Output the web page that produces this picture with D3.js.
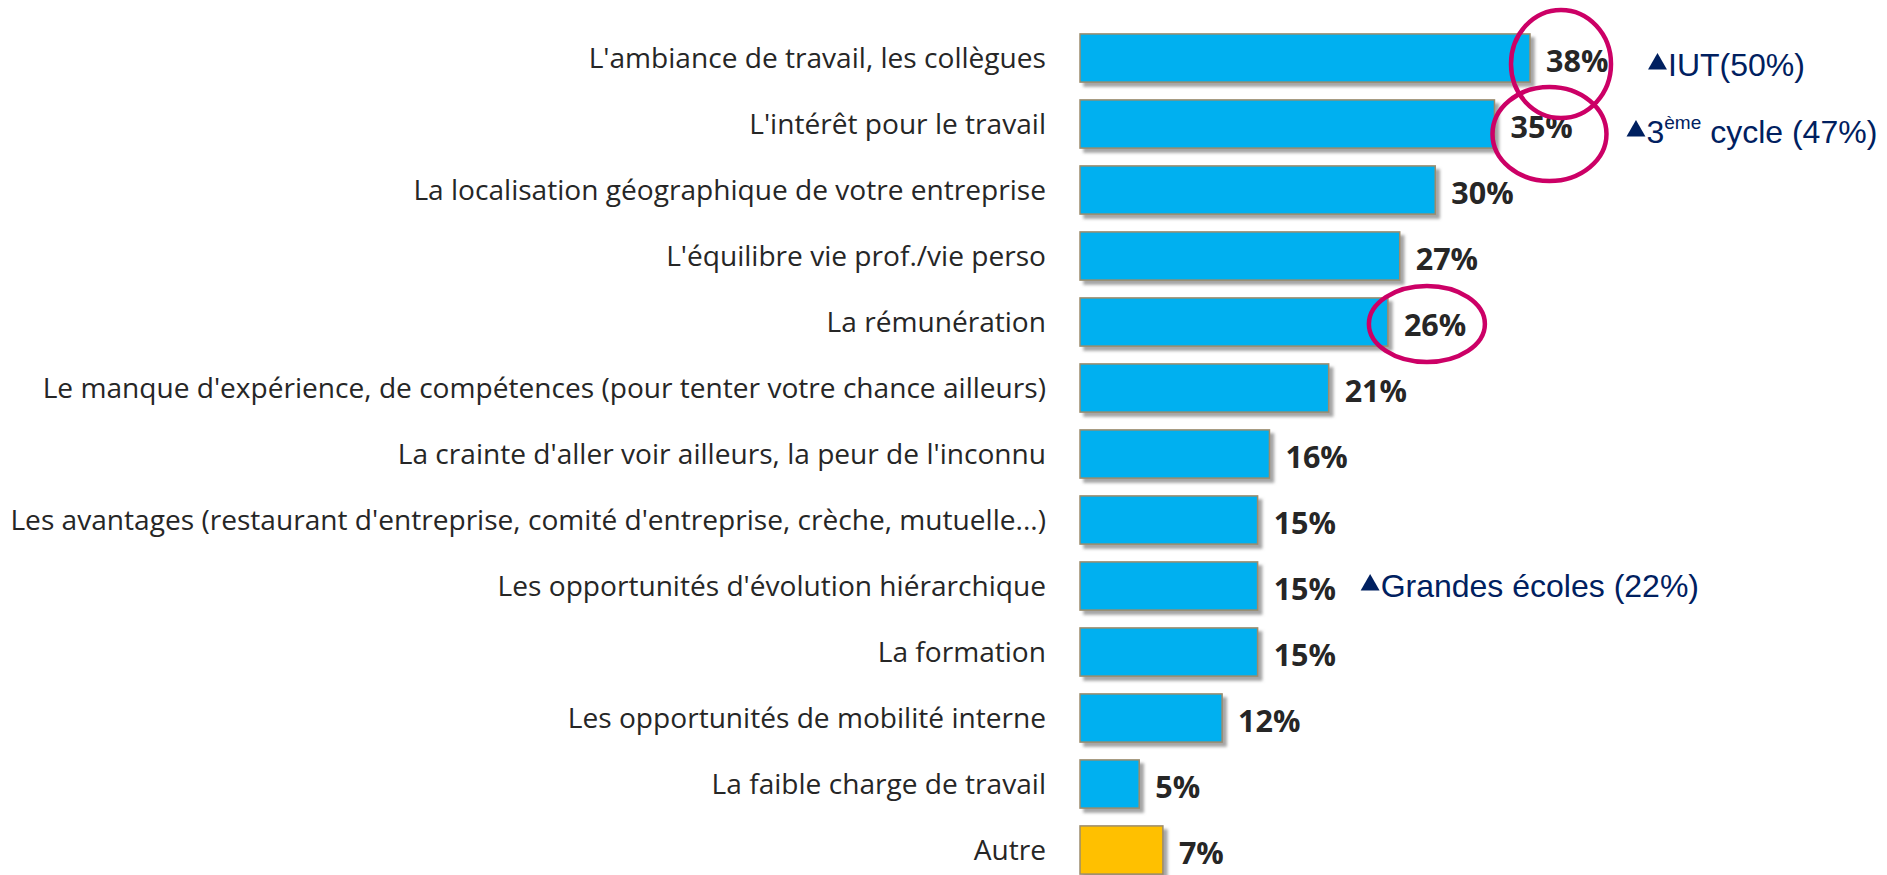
<!DOCTYPE html>
<html>
<head>
<meta charset="utf-8">
<script src="https://cdn.jsdelivr.net/npm/d3@7"></script>
<style>
  html, body { margin: 0; padding: 0; background: #fff; }
  svg { display: block; }
</style>
</head>
<body>
<div id="chart"></div>
<script>
/*************
Data
**************/
var categories = [
  "L'ambiance de travail, les collègues",
  "L'intérêt pour le travail",
  "La localisation géographique de votre entreprise",
  "L'équilibre vie prof./vie perso",
  "La rémunération",
  "Le manque d'expérience, de compétences (pour tenter votre chance ailleurs)",
  "La crainte d'aller voir ailleurs, la peur de l'inconnu",
  "Les avantages (restaurant d'entreprise, comité d'entreprise, crèche, mutuelle...)",
  "Les opportunités d'évolution hiérarchique",
  "La formation",
  "Les opportunités de mobilité interne",
  "La faible charge de travail",
  "Autre"
];
var values = [38, 35, 30, 27, 26, 21, 16, 15, 15, 15, 12, 5, 7];

// notes: sub-population above average
var noteCats = [categories[0], categories[1], categories[8]];
var noteMain = ["", "3", "Grandes écoles (22%)"];
var noteSup  = ["", "ème", ""];
var noteTail = ["IUT(50%)", " cycle (47%)", ""];

// circled values
var circledCats = [categories[0], categories[1], categories[4]];

/*************
Params
**************/
var width = 1887, height = 875;
var barColor = "#00B0F0", otherColor = "#FFC000";

var svg = d3.select("#chart").append("svg")
  .attr("width", width)
  .attr("height", height);

var defs = svg.append("defs");
var f = defs.append("filter").attr("id", "shadow")
  .attr("x", "-10%").attr("y", "-20%").attr("width", "130%").attr("height", "160%");
f.append("feDropShadow")
  .attr("dx", 4).attr("dy", 4).attr("stdDeviation", 1.5)
  .attr("flood-color", "#7f7f7f").attr("flood-opacity", 0.7);

var y = d3.scaleBand()
  .domain(categories)
  .range([25, 883])
  .paddingInner(0.27)
  .paddingOuter(0.135);

var x = d3.scaleLinear()
  .domain([0, 38])
  .range([1080, 1530]);

// category labels
svg.append("g")
  .selectAll("text")
  .data(categories)
  .enter().append("text")
  .attr("x", 1046)
  .attr("y", d => y(d) + y.bandwidth() / 2)
  .attr("dy", "0.35em")
  .attr("text-anchor", "end")
  .attr("font-family", "'Open Sans', sans-serif")
  .attr("font-size", 28.1)
  .attr("fill", "#262626")
  .text(d => d);

// bars
svg.append("g")
  .selectAll("rect")
  .data(categories)
  .enter().append("rect")
  .attr("x", x(0))
  .attr("y", d => y(d))
  .attr("width", (d, i) => x(values[i]) - x(0))
  .attr("height", y.bandwidth())
  .attr("fill", d => d === "Autre" ? otherColor : barColor)
  .attr("stroke", "#9c8c6c")
  .attr("stroke-width", 1.5)
  .attr("filter", "url(#shadow)");

// value labels
svg.append("g")
  .selectAll("text")
  .data(categories)
  .enter().append("text")
  .attr("x", (d, i) => x(values[i]) + 16)
  .attr("y", d => y(d) + y.bandwidth() / 2 + 3)
  .attr("dy", "0.35em")
  .attr("font-family", "'Open Sans', sans-serif")
  .attr("font-weight", "bold")
  .attr("font-size", 30.5)
  .attr("fill", "#262626")
  .text((d, i) => values[i] + "%");

// ellipses
var ellOff = [[31, 6, 50, 54], [55, 10, 57, 47], [39, 2, 58, 38]];
svg.append("g")
  .selectAll("ellipse")
  .data(circledCats)
  .enter().append("ellipse")
  .attr("cx", (d, i) => x(values[categories.indexOf(d)]) + ellOff[i][0])
  .attr("cy", (d, i) => y(d) + y.bandwidth() / 2 + ellOff[i][1])
  .attr("rx", (d, i) => ellOff[i][2])
  .attr("ry", (d, i) => ellOff[i][3])
  .attr("fill", "none")
  .attr("stroke", "#CC0066")
  .attr("stroke-width", 4.5);

// notes
var noteDx = [118, 132, 103];
var noteDy = [7, 8, 0];
var notes = svg.append("g")
  .selectAll("g")
  .data(noteCats)
  .enter().append("g")
  .attr("transform", (d, i) => "translate(" + (x(values[categories.indexOf(d)]) + noteDx[i]) + "," +
    (y(d) + y.bandwidth() / 2 + noteDy[i]) + ")");

notes.append("path")
  .attr("d", d3.symbol(d3.symbolTriangle, 155))
  .attr("transform", "translate(9.5,-1)")
  .attr("fill", "#002060");

var nt = notes.append("text")
  .attr("x", 20)
  .attr("dy", "0.35em")
  .attr("font-family", "'Liberation Sans', Arial, sans-serif")
  .attr("font-size", 32)
  .attr("fill", "#002060");
nt.append("tspan").text((d, i) => noteMain[i]);
nt.append("tspan").attr("font-size", 19).attr("dy", "-0.75em")
  .text((d, i) => noteSup[i]);
nt.append("tspan").attr("dy", (d, i) => noteSup[i] ? "0.45em" : null)
  .text((d, i) => noteTail[i]);
</script>
</body>
</html>
